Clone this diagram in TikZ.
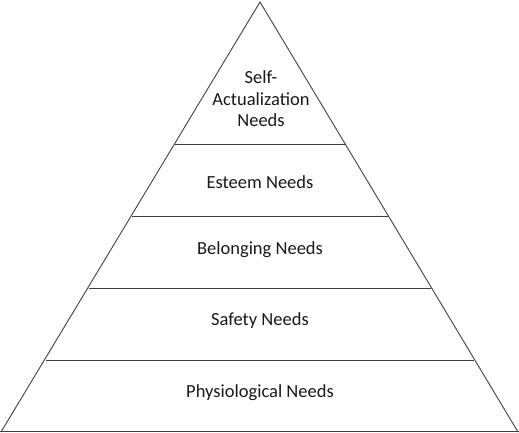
\documentclass[tikz,border=0pt]{standalone}
\usepackage{fontspec}
\setmainfont{Carlito}
\begin{document}
\begin{tikzpicture}[x=1pt,y=-1pt,
  edge/.style={draw=black!75,line width=0.9pt},
  lbl/.style={font=\fontsize{18.5}{21.5}\selectfont,text=black!90,align=center,inner sep=0pt}]
\useasboundingbox (0,0) rectangle (519,433);
\coordinate (apex) at (260,2);
\coordinate (bl) at (1,432);
\coordinate (br) at (518,432);
\foreach \y/\n in {144/a,216/b,288/c,360/d}{
  \coordinate (L\n) at ({260-0.599*(\y-2)},\y);
  \coordinate (R\n) at ({260+0.599*(\y-2)},\y);
}
\draw[edge] (bl) -- (apex) -- (br);
\draw[edge] (La) -- (Ra);
\draw[edge] (Lb) -- (Rb);
\draw[edge] (Lc) -- (Rc);
\draw[edge] (Ld) -- (Rd);
\draw[edge,line width=1.3pt] (0,431.5) -- (519,431.5);
\node[lbl] (t1) at (261,99) {Self-\\Actualization\\Needs};
\node[lbl] (t2) at (260,182) {Esteem Needs};
\node[lbl] (t3) at (260,250) {Belonging Needs};
\node[lbl] (t4) at (260,321) {Safety Needs};
\node[lbl] (t5) at (260,393) {Physiological Needs};
\end{tikzpicture}
\end{document}
